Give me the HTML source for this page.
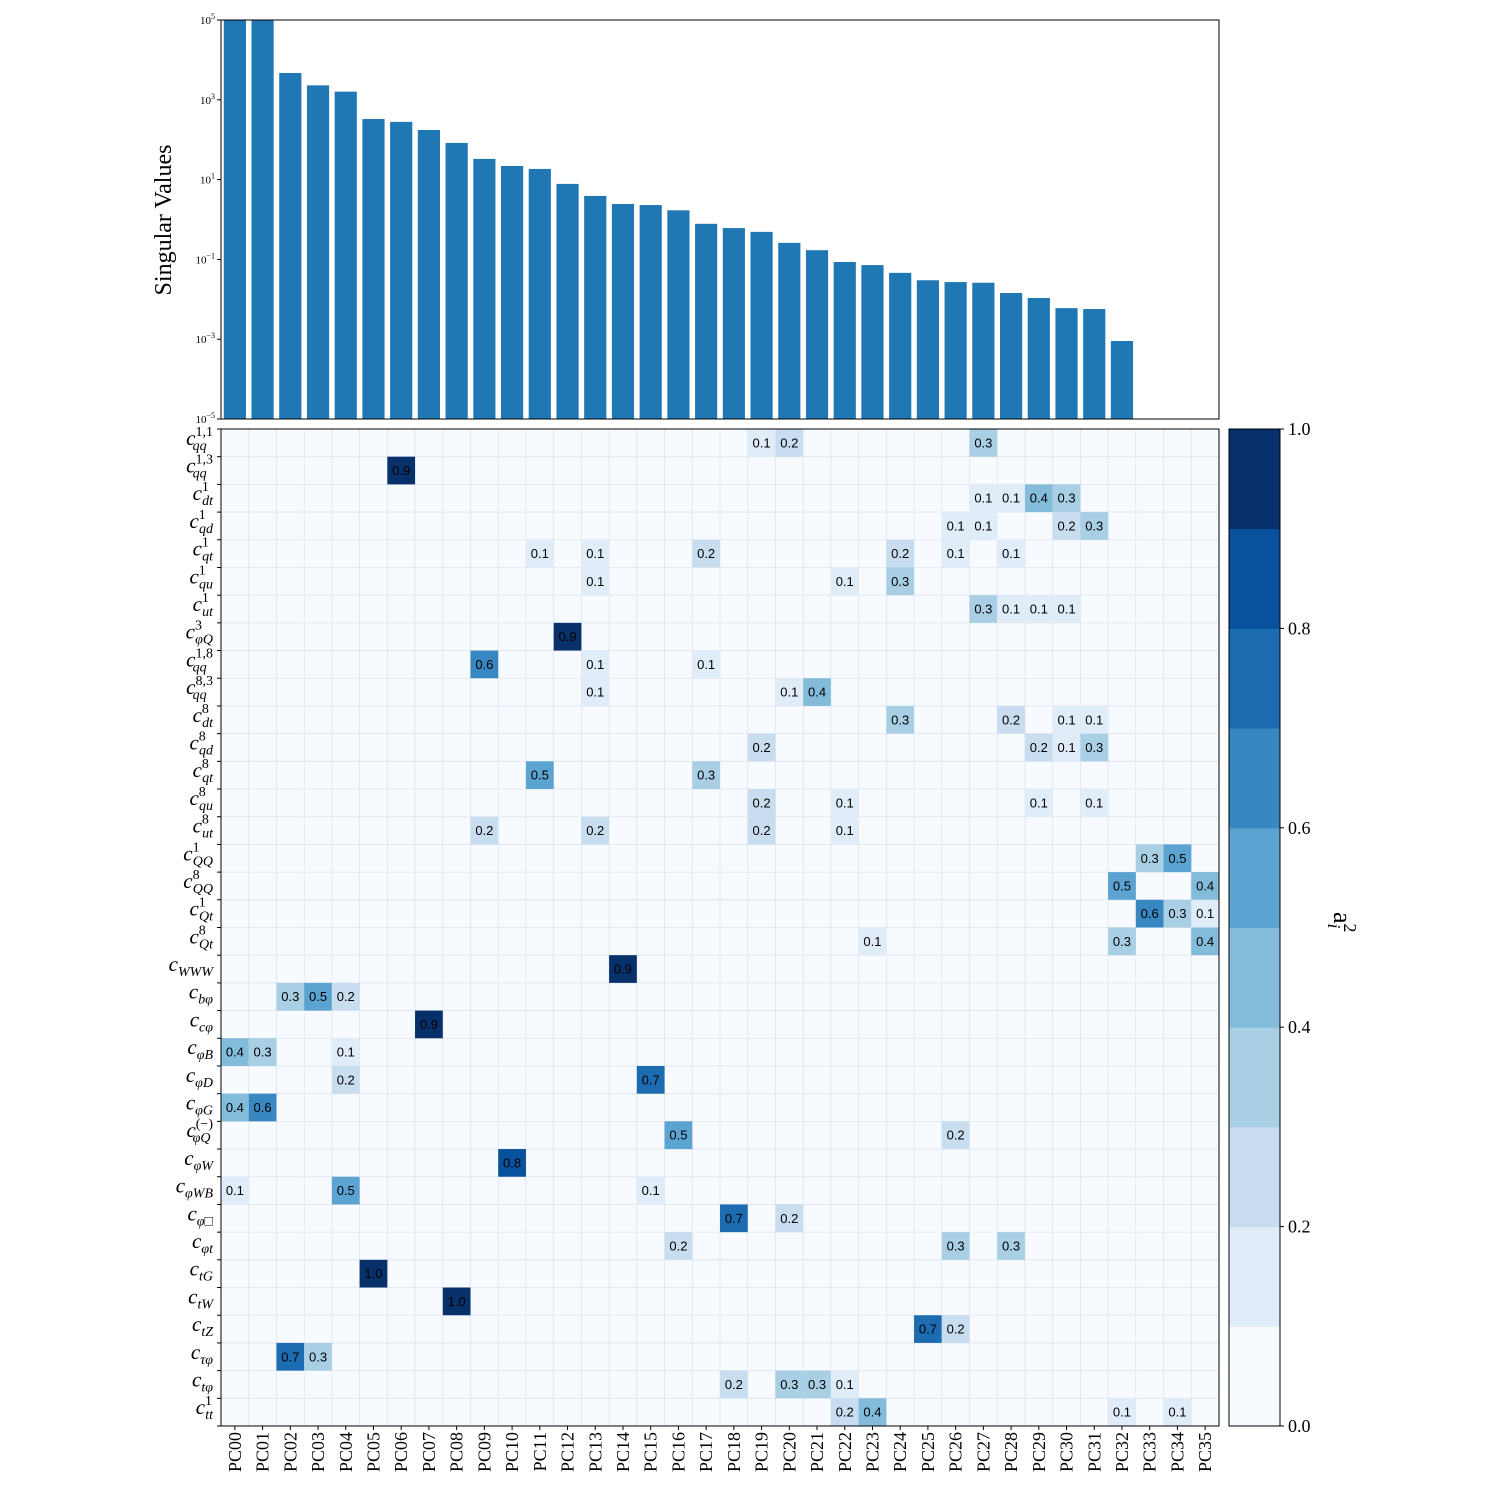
<!DOCTYPE html>
<html><head><meta charset="utf-8"><style>
body{margin:0;background:#fff}
svg text{font-family:"Liberation Serif",serif}
.num{font-family:"Liberation Sans",sans-serif;font-size:13px}
</style></head><body>
<svg id="s" width="1500" height="1500" xmlns="http://www.w3.org/2000/svg"></svg>
<script>
const pcs=[];for(let i=0;i<36;i++)pcs.push('PC'+String(i).padStart(2,'0'));
const singularValues=[1e5,1e5,4700,2300,1600,330,280,175,83,33,22,18.5,7.8,3.9,2.45,2.3,1.7,0.78,0.61,0.49,0.26,0.17,0.086,0.072,0.046,0.030,0.027,0.026,0.0144,0.0108,0.006,0.0057,0.0009,0,0,0];
const rowBase=['c','c','c','c','c','c','c','c','c','c','c','c','c','c','c','c','c','c','c','c','c','c','c','c','c','c','c','c','c','c','c','c','c','c','c','c'];
const rowSub=['qq','qq','dt','qd','qt','qu','ut','φQ','qq','qq','dt','qd','qt','qu','ut','QQ','QQ','Qt','Qt','WWW','bφ','cφ','φB','φD','φG','φQ','φW','φWB','φ□','φt','tG','tW','tZ','τφ','tφ','tt'];
const rowSup=['1,1','1,3','1','1','1','1','1','3','1,8','8,3','8','8','8','8','8','1','8','1','8','','','','','','','(−)','','','','','','','','','','1'];
const cellRows=[0,0,0,1,2,2,2,2,3,3,3,3,4,4,4,4,4,4,5,5,5,6,6,6,6,7,8,8,8,9,9,9,10,10,10,10,11,11,11,11,12,12,13,13,13,13,14,14,14,14,15,15,16,16,17,17,17,18,18,18,19,20,20,20,21,22,22,22,23,23,24,24,25,25,26,27,27,27,28,28,29,29,29,30,31,32,32,33,33,34,34,34,34,35,35,35,35];
const cellCols=[19,20,27,6,27,28,29,30,26,27,30,31,11,13,17,24,26,28,13,22,24,27,28,29,30,12,9,13,17,13,20,21,24,28,30,31,19,29,30,31,11,17,19,22,29,31,9,13,19,22,33,34,32,35,33,34,35,23,32,35,14,2,3,4,7,0,1,4,4,15,0,1,16,26,10,0,4,15,18,20,16,26,28,5,8,25,26,2,3,18,20,21,22,22,23,32,34];
const cellVals=[0.1,0.2,0.3,0.9,0.1,0.1,0.4,0.3,0.1,0.1,0.2,0.3,0.1,0.1,0.2,0.2,0.1,0.1,0.1,0.1,0.3,0.3,0.1,0.1,0.1,0.9,0.6,0.1,0.1,0.1,0.1,0.4,0.3,0.2,0.1,0.1,0.2,0.2,0.1,0.3,0.5,0.3,0.2,0.1,0.1,0.1,0.2,0.2,0.2,0.1,0.3,0.5,0.5,0.4,0.6,0.3,0.1,0.1,0.3,0.4,0.9,0.3,0.5,0.2,0.9,0.4,0.3,0.1,0.2,0.7,0.4,0.6,0.5,0.2,0.8,0.1,0.5,0.1,0.7,0.2,0.2,0.3,0.3,1.0,1.0,0.7,0.2,0.7,0.3,0.2,0.3,0.3,0.1,0.2,0.4,0.1,0.1];
const cbTicks=[0,0.2,0.4,0.6,0.8,1.0];
const yTickExp=[5,3,1,-1,-3,-5];
const colors=['#f7fbff','#e0ecf8','#c9ddf0','#a9cfe5','#83bbdb','#5ba3d0','#3987c0','#1d6cb1','#08519c','#08306b'];

const S=document.getElementById('s'),NS='http://www.w3.org/2000/svg';
function mk(t,a,p){const e=document.createElementNS(NS,t);for(const k in a)e.setAttribute(k,a[k]);(p||S).appendChild(e);return e;}
const X0=221,X1=1219,cw=(X1-X0)/36;
const BY0=20,BY1=419;
const HY0=429,HY1=1426,rh=(HY1-HY0)/36;
const yLog=v=>BY1-(Math.log10(v)+5)/10*(BY1-BY0);
const xCol=i=>X0+i*cw;
const yRow=r=>HY0+r*rh;
const colorOf=v=>colors[Math.max(0,Math.min(9,Math.floor(v*10+1e-9)))];

const gb=mk('g',{});

singularValues.forEach((v,i)=>{if(v<=0)return;const y=Math.max(BY0,yLog(v));
 const r=mk('rect',{x:xCol(i)+cw*0.1,y:y,width:cw*0.8,height:BY1-y,fill:'#1f77b4'},gb);
 });
const bf=mk('rect',{x:X0,y:BY0,width:X1-X0,height:BY1-BY0,fill:'none',stroke:'#000','stroke-width':1});

yTickExp.forEach(e=>{const y=yLog(Math.pow(10,e));
 mk('line',{x1:X0-4,x2:X0,y1:y,y2:y,stroke:'#000'});
 const t=mk('text',{x:X0-6,y:y+4,'text-anchor':'end','font-size':11});
 
 t.appendChild(document.createTextNode('10'));
 const s=mk('tspan',{dy:-5,'font-size':8},t);s.textContent=(e<0?'−':'')+Math.abs(e);});
const yt=mk('text',{x:0,y:0,transform:'translate(171,220) rotate(-90)','text-anchor':'middle','font-size':24});
yt.textContent='Singular Values';

const gh=mk('g',{});
mk('rect',{x:X0,y:HY0,width:X1-X0,height:HY1-HY0,fill:colors[0]},gh);
for(let i=1;i<36;i++){mk('line',{x1:xCol(i),x2:xCol(i),y1:HY0,y2:HY1,stroke:'#dde4ec','stroke-width':0.8},gh);
 mk('line',{x1:X0,x2:X1,y1:yRow(i),y2:yRow(i),stroke:'#dde4ec','stroke-width':0.8},gh);}
cellVals.forEach((v,k)=>{const r=cellRows[k],c=cellCols[k];
 const re=mk('rect',{x:xCol(c),y:yRow(r),width:cw,height:rh,fill:colorOf(v)},gh);
 
 const t=mk('text',{x:xCol(c)+cw/2,y:yRow(r)+rh/2+4.5,'text-anchor':'middle',class:'num'},gh);
 t.textContent=v.toFixed(1);});
mk('rect',{x:X0,y:HY0,width:X1-X0,height:HY1-HY0,fill:'none',stroke:'#000'});
for(let i=0;i<=36;i++){mk('line',{x1:X0-4,x2:X0,y1:yRow(i),y2:yRow(i),stroke:'#000'});}
rowSub.forEach((sb,r)=>{const y=yRow(r)+rh/2+2;
 const t=mk('text',{x:213,y:y,'text-anchor':'end','font-size':21,'font-style':'italic'});
 
 t.appendChild(document.createTextNode(rowBase[r]));
 if(rowSup[r]){
  const a=mk('tspan',{dy:-9,'font-size':14,'font-style':'normal'},t);a.textContent=rowSup[r];
  const b=mk('tspan',{dy:14,dx:-(rowSup[r].length*6.8),'font-size':14},t);b.textContent=sb;}
 else{const b=mk('tspan',{dy:5,'font-size':14},t);b.textContent=sb;}});
pcs.forEach((p,i)=>{const x=xCol(i)+cw/2;
 mk('line',{x1:x,x2:x,y1:HY1,y2:HY1+4,stroke:'#000'});
 const t=mk('text',{x:0,y:0,transform:`translate(${x+6},${HY1+6}) rotate(-90)`,'text-anchor':'end','font-size':18});
 t.textContent=p;});

const CX=1229,CW=51;
const gc=mk('g',{});
colors.forEach((c,k)=>{const y1=HY1-(k+1)/10*(HY1-HY0);mk('rect',{x:CX,y:y1,width:CW,height:(HY1-HY0)/10+0.5,fill:c},gc);});
mk('rect',{x:CX,y:HY0,width:CW,height:HY1-HY0,fill:'none',stroke:'#000'},gc);
cbTicks.forEach(v=>{const y=HY1-v*(HY1-HY0);
 mk('line',{x1:CX+CW,x2:CX+CW+4,y1:y,y2:y,stroke:'#000'},gc);
 const t=mk('text',{x:CX+CW+8,y:y+6,'font-size':18},gc);t.textContent=v.toFixed(1);
 });
const cl=mk('text',{x:0,y:0,transform:'translate(1334,912) rotate(90)','font-size':26});

cl.appendChild(document.createTextNode('a'));
const c1=mk('tspan',{dy:-10,'font-size':18},cl);c1.textContent='2';
const c2=mk('tspan',{dy:16,dx:-9,'font-size':18,'font-style':'italic'},cl);c2.textContent='i';
</script>
</body></html>
